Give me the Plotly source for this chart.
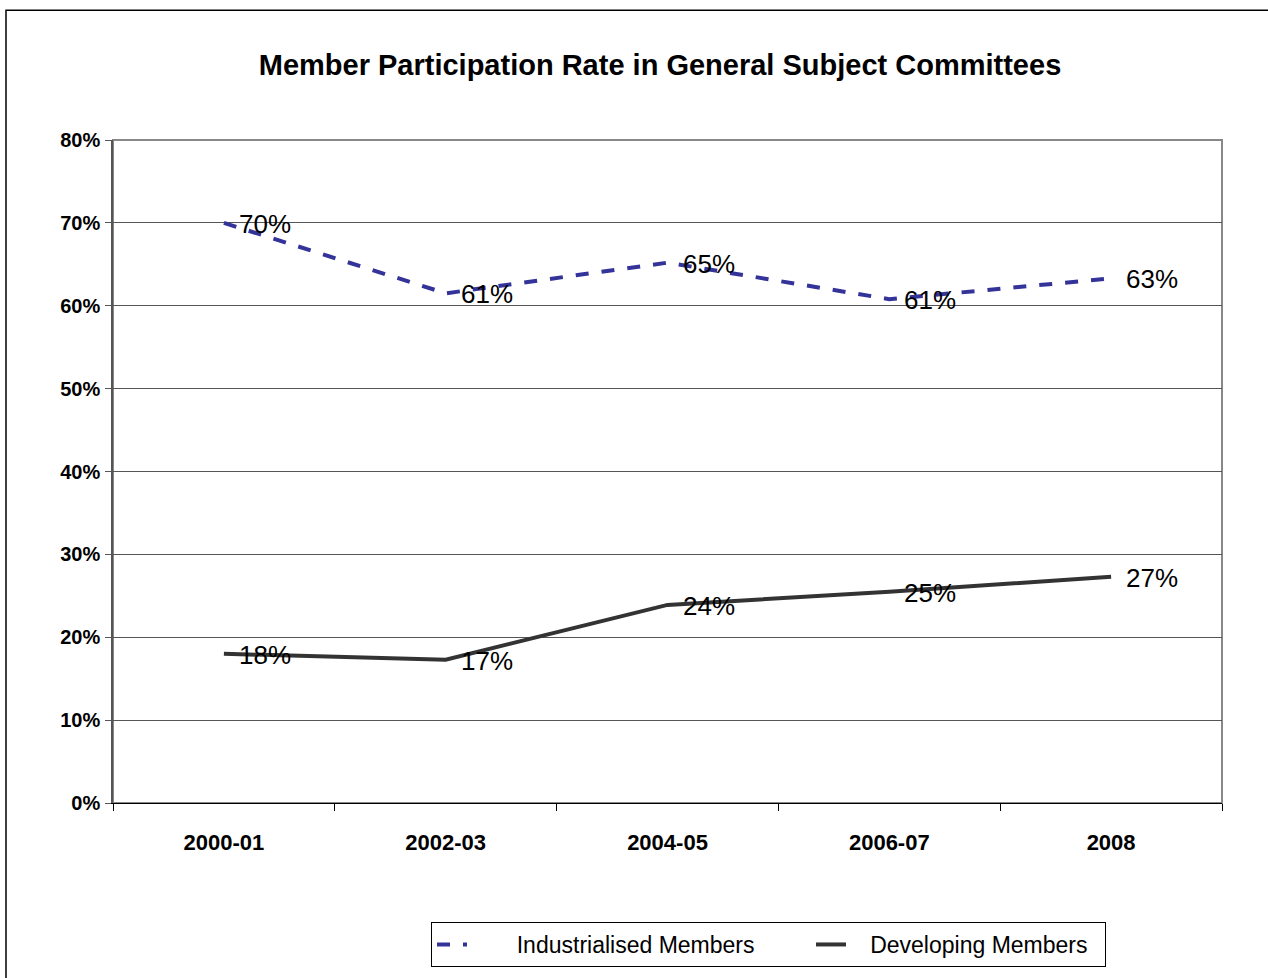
import plotly.graph_objects as go

categories = ["2000-01", "2002-03", "2004-05", "2006-07", "2008"]
industrialised = [0.70, 0.615, 0.652, 0.608, 0.633]
developing = [0.18, 0.173, 0.239, 0.255, 0.273]
industrialised_labels = ["70%", "61%", "65%", "61%", "63%"]
developing_labels = ["18%", "17%", "24%", "25%", "27%"]
y_ticks = [0, 0.1, 0.2, 0.3, 0.4, 0.5, 0.6, 0.7, 0.8]
series_names = ["Industrialised Members", "Developing Members"]

FONT = "Liberation Sans, Arial, sans-serif"
W, H = 1268, 978
L, R, T, B = 113, 46, 140, 174
pw, ph = W - L - R, H - T - B

def px_x(p):
    return (p - L) / pw

def px_y(p):
    return (H - B - p) / ph

NB = "&nbsp;"
fig = go.Figure()
fig.add_trace(go.Scatter(
    x=categories, y=industrialised, mode="lines", name=NB * 7 + series_names[0],
    line=dict(color="#333399", width=4, dash="13px,13px"), legendwidth=334,
))
fig.add_trace(go.Scatter(
    x=categories, y=developing, mode="lines", name=NB * 3 + series_names[1],
    line=dict(color="#333333", width=4), legendwidth=249,
))

annots = []
for ys, labs in [(industrialised, industrialised_labels), (developing, developing_labels)]:
    for i, (v, t) in enumerate(zip(ys, labs)):
        annots.append(dict(x=i, y=v, text=t, showarrow=False, xanchor="left",
                           yanchor="middle", xshift=13, yshift=-1,
                           font=dict(family=FONT, size=26, color="#000000")))

fig.update_layout(
    width=W, height=H,
    margin=dict(l=L, r=R, t=T, b=B),
    paper_bgcolor="white", plot_bgcolor="white",
    title=dict(text="<b>Member Participation Rate in General Subject Committees</b>",
               x=(255 + 1065) / 2 / W, xanchor="center",
               y=1 - 65 / H, yanchor="middle", yref="container",
               font=dict(family=FONT, size=29, color="#000000")),
    xaxis=dict(type="category", categoryarray=categories, range=[-0.5, 4.5],
               showgrid=False, showline=True, linecolor="#000000", linewidth=1,
               ticks="outside", tickson="boundaries", ticklen=7, tickcolor="#000000",
               ticklabelstandoff=20,
               tickfont=dict(family=FONT, size=22, color="#000000", weight="bold"),
               zeroline=False, fixedrange=True),
    yaxis=dict(range=[0, 0.8], tickvals=y_ticks, tickformat=".0%",
               showgrid=True, gridcolor="#555555", gridwidth=1,
               showline=True, linecolor="#555555", linewidth=1.5,
               ticks="outside", ticklen=6, tickcolor="#555555",
               ticklabelstandoff=1,
               tickfont=dict(family=FONT, size=20, color="#000000", weight="bold"),
               zeroline=False, fixedrange=True),
    legend=dict(orientation="h", x=px_x(431), xanchor="left", y=px_y(922), yanchor="top",
                bordercolor="#000000", borderwidth=1, bgcolor="white",
                font=dict(family=FONT, size=23, color="#000000"),
                entrywidthmode="pixels", tracegroupgap=0),
    annotations=annots,
    shapes=[
        dict(type="rect", xref="paper", yref="paper", x0=0, x1=1, y0=0, y1=1,
             line=dict(color="#888888", width=2), layer="below"),
        dict(type="rect", xref="paper", yref="paper",
             x0=px_x(6), x1=px_x(1300), y0=px_y(1010), y1=px_y(10),
             line=dict(color="#000000", width=1.5)),
    ],
    showlegend=True,
)

fig.write_html(
    "out.html",
    config={"displayModeBar": False},
    post_script="document.body.style.margin='0';document.body.style.overflow='hidden';",
)
